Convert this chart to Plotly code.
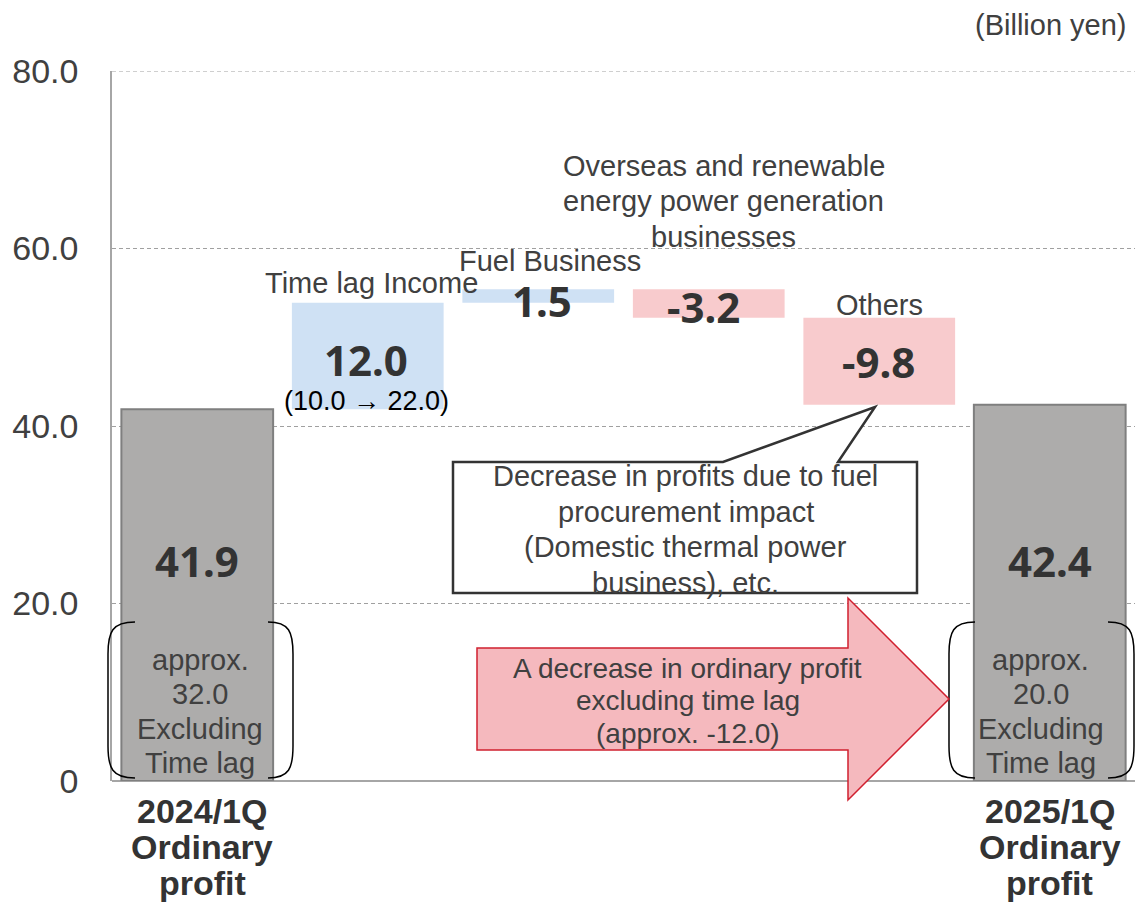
import plotly.graph_objects as go

# ---------------- data ----------------
categories = ["2024/1Q Ordinary profit", "Time lag Income", "Fuel Business",
              "Overseas and renewable energy power generation businesses",
              "Others", "2025/1Q Ordinary profit"]
measures = ["absolute", "relative", "relative", "relative", "relative", "total"]
values = [41.9, 12.0, 1.5, -3.2, -9.8, 42.4]
time_lag_prev = 10.0
time_lag_curr = 22.0
excl_time_lag = [32.0, 20.0]          # approx. ordinary profit excluding time lag
excl_change = -12.0
y_tickvals = [0, 20, 40, 60, 80]
y_ticktext = ["0", "20.0", "40.0", "60.0", "80.0"]

# ---------------- layout constants ----------------
W, H = 1135, 904
ML, MR, MT, MB = 112, 0, 71, 123
PW, PH = W - ML - MR, H - MT - MB
YMAX = 80.0

def xp(px):  # pixel -> paper x
    return (px - ML) / PW

def yp(py):  # pixel -> paper y
    return (MT + PH - py) / PH

def yd(py):  # pixel -> data y
    return (MT + PH - py) / PH * YMAX

REG = "Liberation Sans, Arial, sans-serif"
NUM = "Noto Sans, DejaVu Sans, sans-serif"
TXT = "#404040"
DARK = "#333333"
GRID = "#a0a0a0"

fig = go.Figure()
fig.add_trace(go.Waterfall(
    x=categories, y=values, measure=measures,
    connector=dict(visible=False),
    totals=dict(marker=dict(color="#adacab", line=dict(color="#7f7f7f", width=2))),
    increasing=dict(marker=dict(color="#cfe1f4", line=dict(width=0))),
    decreasing=dict(marker=dict(color="#f8cbcd", line=dict(width=0))),
    hoverinfo="skip", textinfo="none", showlegend=False,
))

def ann(text, x, y, size, color=TXT, family=REG, weight="normal",
        xref="x", yref="y", xshift=0, yshift=0, xanchor="center"):
    fig.add_annotation(text=text, x=x, y=y, xref=xref, yref=yref,
                       showarrow=False, xshift=xshift, yshift=yshift,
                       xanchor=xanchor, yanchor="middle",
                       font=dict(size=size, color=color, family=family, weight=weight))

def block(lines, x, y, spacing, size, **kw):
    n = len(lines)
    for i, line in enumerate(lines):
        ann(line, x, y, size, yshift=((n - 1) / 2 - i) * spacing, **kw)

# value labels
value_pos = [(560, 0), (359, -2), (300, 4), (306, -5), (361, -1), (560, 0)]
for cat, v, (py, dx) in zip(categories, values, value_pos):
    ann(f"{v:.1f}", cat, yd(py), 42, color=DARK, family=NUM, weight="bold", xshift=dx)

ann(f"({time_lag_prev:.1f} \u2192 {time_lag_curr:.1f})", categories[1], yd(401), 27,
    color="#000000", xshift=-1)

# item names above the bars
ann(categories[1], categories[1], yd(283), 29, xshift=4)
ann(categories[2], categories[2], yd(261), 29, xshift=12)
block(["Overseas and renewable", "energy power generation", "businesses"],
      categories[3], yd(201), 35.5, 29, xshift=15)
ann(categories[4], categories[4], yd(305), 29)

# category labels under the first and last bars
for cat, dx in ((categories[0], 5), (categories[5], 0)):
    words = cat.split(" ")
    for i, (w, dy) in enumerate(zip(words, (30, 66, 102))):
        fig.add_annotation(text=w, x=cat, xref="x", y=0, yref="paper",
                           yshift=-dy, xshift=dx, showarrow=False,
                           yanchor="middle",
                           font=dict(size=34, color=DARK, family=REG, weight="bold"))

# excluding-time-lag notes inside the total bars
for cat, v, dx in ((categories[0], excl_time_lag[0], 3), (categories[5], excl_time_lag[1], -9)):
    block(["approx.", f"{v:.1f}", "Excluding", "Time lag"], cat, yd(711.5), 34.5, 29, xshift=dx)

# unit
ann("(Billion yen)", 1, yp(25), 29, xref="paper", yref="paper", xanchor="right", xshift=-6)

# ---------------- decorations ----------------
def path(cmds):
    out = []
    for cmd, pts in cmds:
        if cmd == "C":
            out.append("C" + " ".join(f"{xp(x):.5f},{yp(y):.5f}" for x, y in pts))
        else:
            for x, y in pts:
                out.append(f"{cmd}{xp(x):.5f},{yp(y):.5f}")
    return " ".join(out)

def bracket(x_end, x_edge, y0, y1):
    k = x_edge + (x_end - x_edge) * 0.15
    return path([("M", [(x_end, y0)]),
                 ("C", [(k, y0), (x_edge, y0 + 10), (x_edge, y0 + 32)]),
                 ("L", [(x_edge, y1 - 32)]),
                 ("C", [(x_edge, y1 - 10), (k, y1), (x_end, y1)])])

shapes = []
# top gridline at the axis maximum (plotly omits the gridline on the range edge)
shapes.append(dict(type="line", xref="paper", yref="y", x0=0, x1=1, y0=YMAX, y1=YMAX,
                   line=dict(color=GRID, width=1, dash="4px,3px"), layer="below"))

for (xe, xg) in ((135, 108), (268, 293), (975, 949), (1108, 1134)):
    shapes.append(dict(type="path", path=bracket(xe, xg, 622, 778), xref="paper", yref="paper",
                       line=dict(color="#000000", width=1.5), layer="above"))

# callout box with pointer to "Others"
callout = path([("M", [(453, 462)]), ("L", [(723, 462), (875, 407), (838, 462), (917, 462),
                                           (917, 593), (453, 593)])]) + " Z"
shapes.append(dict(type="path", path=callout, xref="paper", yref="paper",
                   fillcolor="#ffffff", line=dict(color="#333333", width=2.5), layer="above"))

# big arrow
arrow = path([("M", [(477, 648)]), ("L", [(848, 648), (848, 598), (949, 699), (848, 800),
                                         (848, 750), (477, 750)])]) + " Z"
shapes.append(dict(type="path", path=arrow, xref="paper", yref="paper",
                   fillcolor="#f5b9be", line=dict(color="#d0202f", width=1.5), layer="above"))

fig.update_layout(shapes=shapes)

block(["Decrease in profits due to fuel", "procurement impact",
       "(Domestic thermal power", "business), etc."],
      categories[3], yd(529.5), 35.5, 29, xshift=-23)
block(["A decrease in ordinary profit", "excluding time lag", f"(approx. {excl_change:.1f})"],
      categories[3], yd(700.5), 32.5, 28, xshift=-21)

fig.update_layout(
    width=W, height=H,
    margin=dict(l=ML, r=MR, t=MT, b=MB, pad=0),
    paper_bgcolor="#ffffff", plot_bgcolor="#ffffff",
    waterfallgap=0.11,
    showlegend=False,
    xaxis=dict(showticklabels=False, showgrid=False, zeroline=False, showline=False,
               fixedrange=True),
    yaxis=dict(range=[0, YMAX], tickvals=y_tickvals, ticktext=y_ticktext,
               tickfont=dict(size=34, color=TXT, family=REG),
               ticks="", ticklabelstandoff=25,
               showgrid=True, gridcolor=GRID, gridwidth=1, griddash="4px,3px",
               showline=True, linecolor="#a6a6a6", linewidth=1.5,
               zeroline=True, zerolinecolor="#a6a6a6", zerolinewidth=1.5,
               fixedrange=True),
)

fig.write_html("out.html", config={"displayModeBar": False},
               post_script="document.body.style.margin='0';document.body.style.overflow='hidden';")
